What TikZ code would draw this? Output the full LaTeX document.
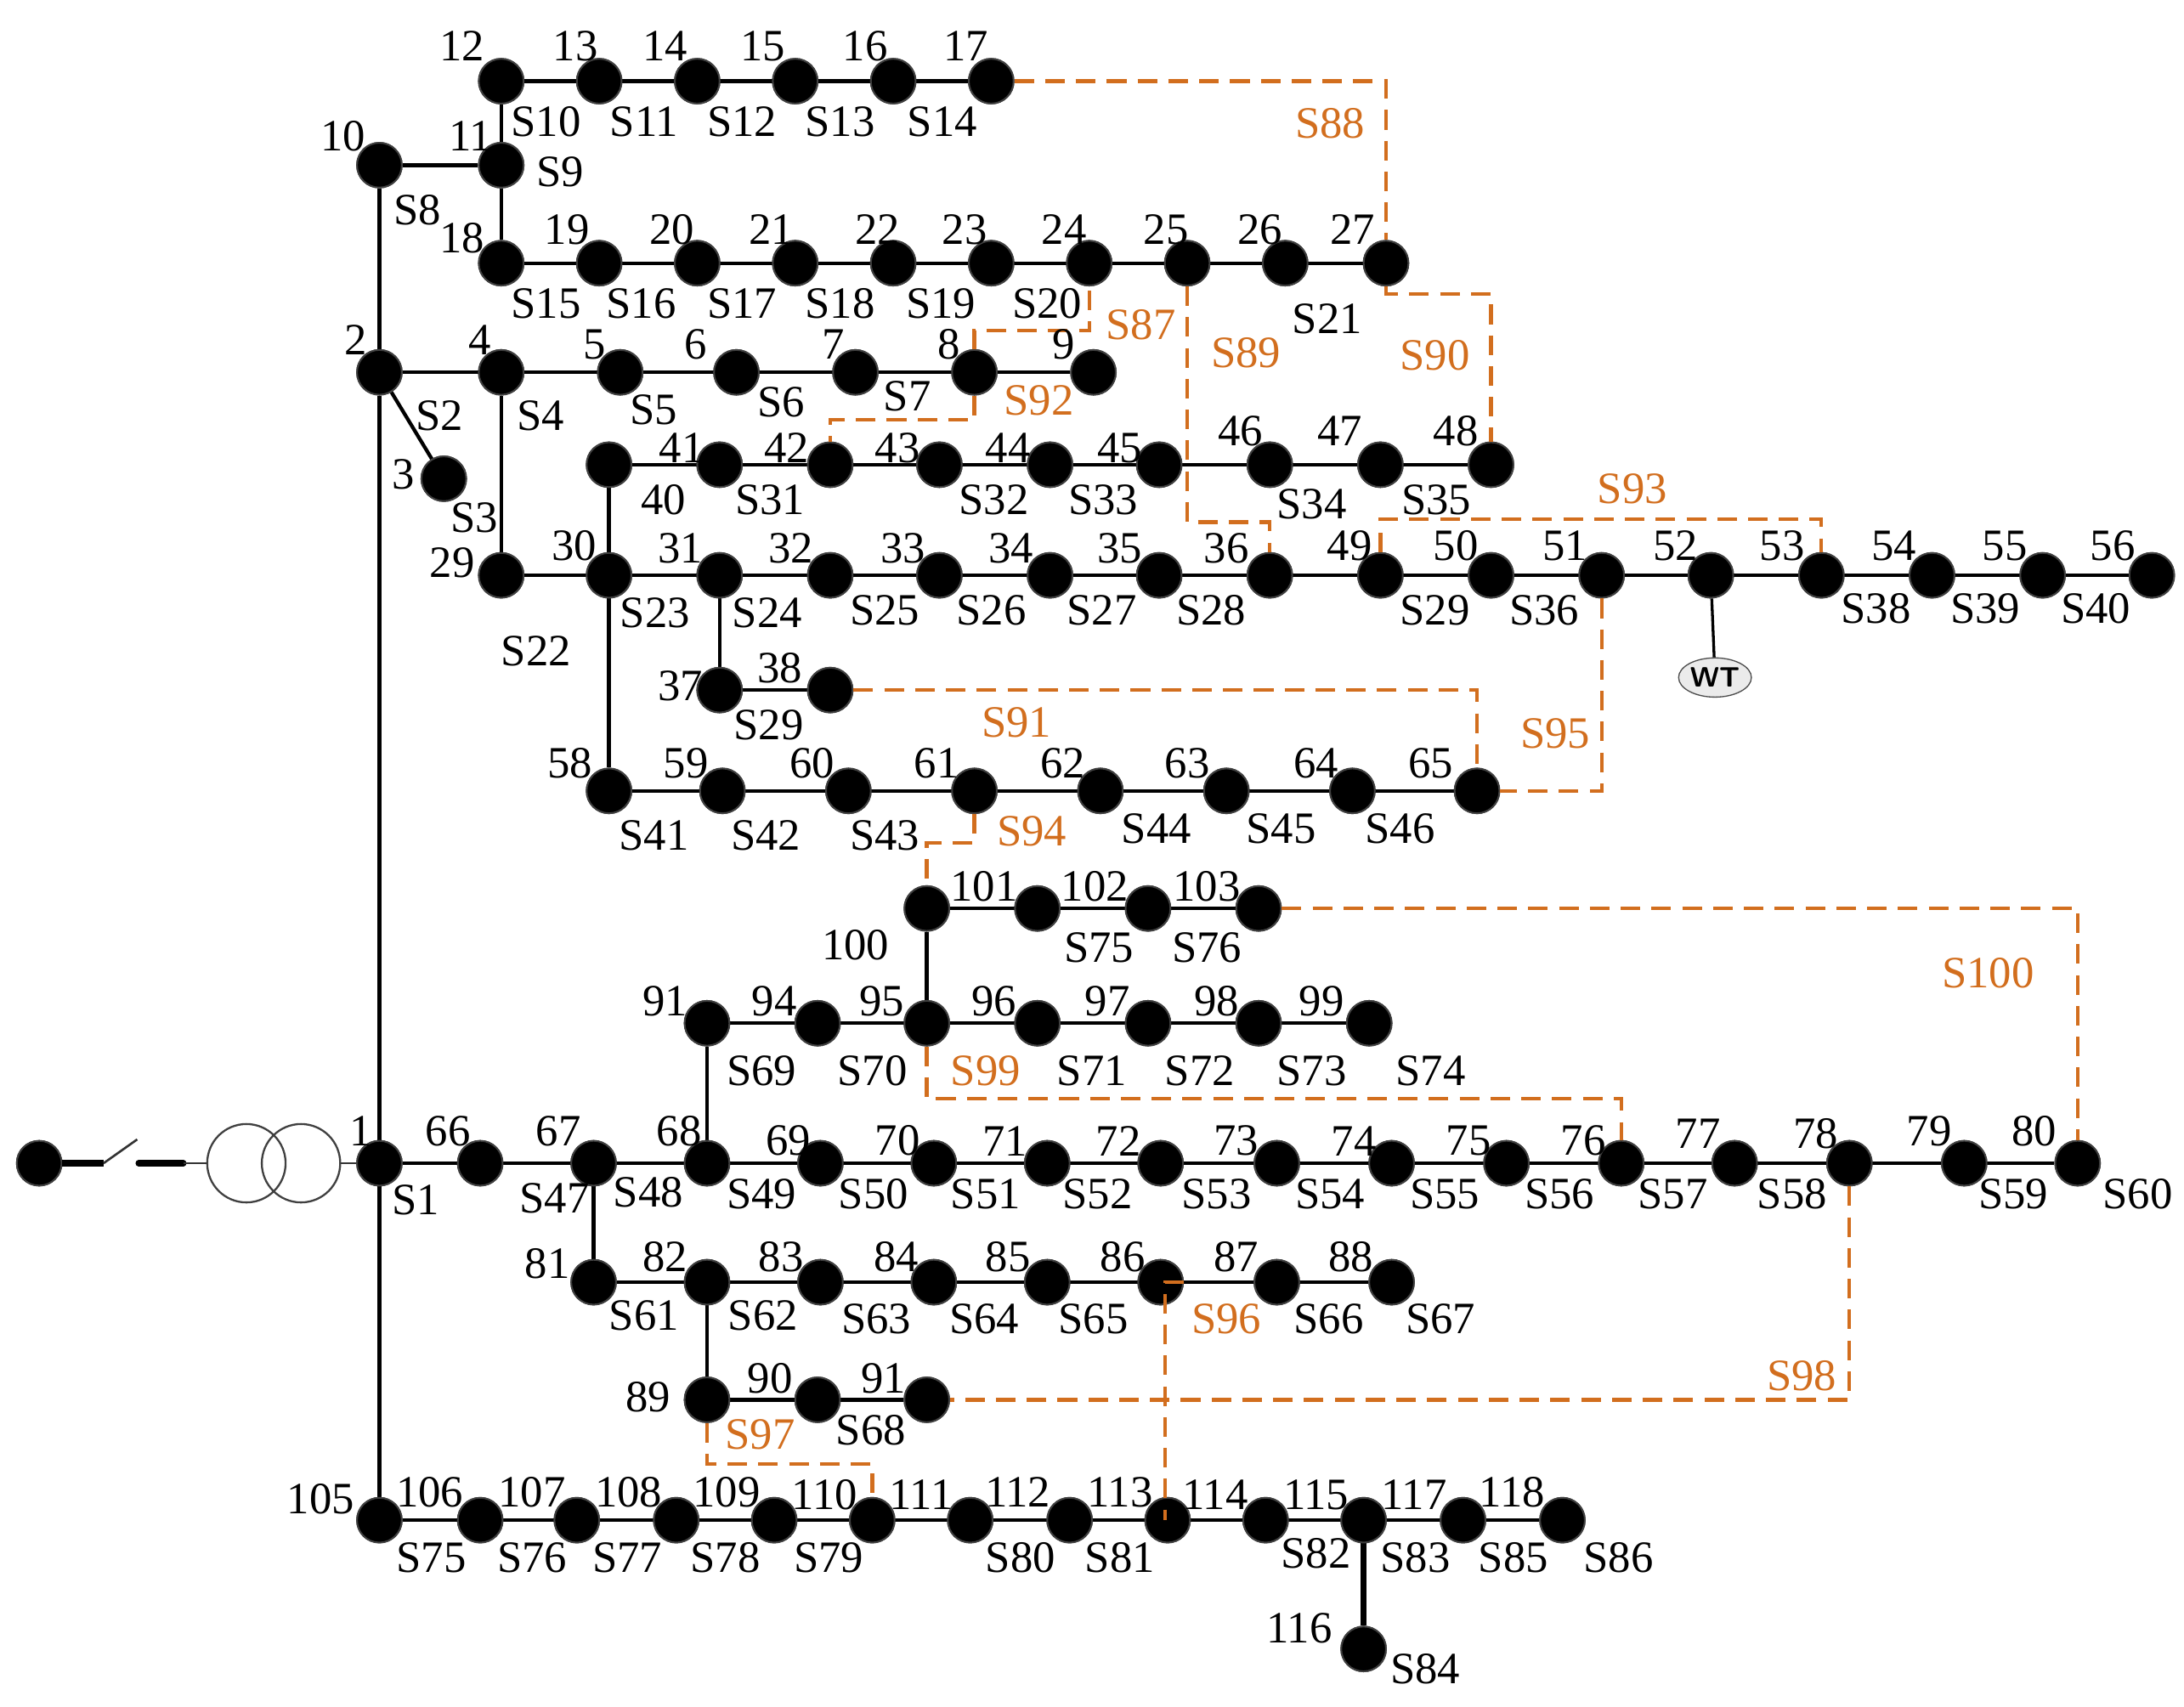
\documentclass[tikz,border=0pt]{standalone}
\usepackage{fontspec}
\setmainfont{Liberation Serif}
\usetikzlibrary{shapes.geometric}
\begin{document}
\begin{tikzpicture}[x=0.5pt,y=-0.5pt,
 bus/.style={circle,fill=black,draw=black!75,line width=0.6pt,minimum size=16pt,inner sep=0pt},
 ln/.style={line width=1.3pt},
 tie/.style={line width=1.3pt,dashed,dash pattern=on 7pt off 4pt,draw=orOr},
 lab/.style={font=\fontsize{16}{16}\selectfont,inner sep=0pt},
 olab/.style={lab,text=orOr}]
\definecolor{orOr}{RGB}{210,110,30}
\useasboundingbox (0,0) rectangle (1560,1219);
% buses
\foreach \n/\x/\y in {12/358/58,13/428/58,14/498/58,15/568/58,16/638/58,17/708/58,
 10/271/118,11/358/118,
 18/358/188,19/428/188,20/498/188,21/568/188,22/638/188,23/708/188,24/778/188,25/848/188,26/918/188,27/990/188,
 2/271/266,4/358/266,5/443/266,6/526/266,7/611/266,8/696/266,9/781/266,3/317/342,
 40/435/332,41/514/332,42/593/332,43/671/332,44/750/332,45/828/332,46/907/332,47/986/332,48/1065/332,
 29/358/411,30/435/411,31/514/411,32/593/411,33/671/411,34/750/411,35/828/411,36/907/411,49/986/411,50/1065/411,51/1144/411,52/1222/411,53/1301/411,54/1380/411,55/1459/411,56/1537/411,
 37/514/493,38/593/493,
 58/435/565,59/516/565,60/606/565,61/696/565,62/786/565,63/876/565,64/966/565,65/1055/565,
 100/662/649,101/741/649,102/820/649,103/899/649,
 91/505/731,94/584/731,95/662/731,96/741/731,97/820/731,98/899/731,99/978/731,
 1/271/831,66/343/831,67/424/831,68/505/831,69/586/831,70/667/831,71/748/831,72/829/831,73/912/831,74/994/831,75/1076/831,76/1158/831,77/1239/831,78/1321/831,79/1403/831,80/1484/831,
 81/424/916,82/505/916,83/586/916,84/667/916,85/748/916,86/829/916,87/912/916,88/994/916,
 89/505/1000,90/584/1000,91b/662/1000,
 105/271/1086,106/343/1086,107/412/1086,108/483/1086,109/553/1086,110/623/1086,111/693/1086,112/764/1086,113/834/1086,114/904/1086,115/974/1086,117/1045/1086,118/1116/1086,116/974/1178,src/28/831}
 \node[bus] (n\n) at (\x,\y) {};
% WT
\node[ellipse,draw=black!70,fill=black!8,minimum width=26pt,minimum height=14pt,inner sep=0pt,font=\sffamily\bfseries\fontsize{10}{10}\selectfont] (wt) at (1225,484) {WT};
% black lines
\foreach \a/\b in {12/17,18/27,2/9,40/48,29/56,58/65,100/103,91/99,1/80,81/88,89/91b,105/118}
 \draw[ln] (n\a) -- (n\b);
\foreach \a/\b in {12/11,10/11,10/2,2/1,11/18,4/29,30/40,30/58,31/37,37/38,100/95,91/68,67/81,82/89,1/105,2/3}
 \draw[ln] (n\a) -- (n\b);
\draw[line width=2.2pt] (n115) -- (n116);
\draw[line width=1pt] (n52) -- (wt);
% redraw buses on top
\foreach \n in {12,13,14,15,16,17,10,11,18,19,20,21,22,23,24,25,26,27,2,4,5,6,7,8,9,3,40,41,42,43,44,45,46,47,48,29,30,31,32,33,34,35,36,49,50,51,52,53,54,55,56,37,38,58,59,60,61,62,63,64,65,100,101,102,103,91,94,95,96,97,98,99,1,66,67,68,69,70,71,72,73,74,75,76,77,78,79,80,81,82,83,84,85,86,87,88,89,90,91b,105,106,107,108,109,110,111,112,113,114,115,117,118,116,src}
 \node[bus] at (n\n) {};
% source, switch, transformer
\coordinate (sw1) at (74,831); \coordinate (sw2) at (98,814);
\coordinate (sw3) at (99,831); \coordinate (sw4) at (131,831);
\draw[line width=2.2pt] (nsrc) -- (sw1);
\draw[line width=0.8pt,black!80] (sw1) -- (sw2);
\draw[line width=2.2pt,line cap=round] (sw3) -- (sw4);
\node[circle,draw=black!75,line width=0.7pt,minimum size=28pt,inner sep=0pt] (t1) at (176,831) {};
\node[circle,draw=black!75,line width=0.7pt,minimum size=28pt,inner sep=0pt] (t2) at (215,831) {};
\draw[line width=0.5pt,black!80] (sw4) -- (t1.west);
\draw[line width=0.5pt,black!80] (t2.east) -- (n1);
% tie lines
\draw[tie] (n17) -- (990,58) -- (n27);
\draw[tie] (n27) -- (990,210) -- (1065,210) -- (n48);
\draw[tie] (n25) -- (848,373) -- (907,373) -- (n36);
\draw[tie] (n8) -- (696,236) -- (778,236) -- (n24);
\draw[tie] (n8) -- (696,300) -- (593,300) -- (n42);
\draw[tie] (n49) -- (986,371) -- (1301,371) -- (n53);
\draw[tie] (n51) -- (1144,565) -- (n65);
\draw[tie] (n38) -- (1055,493) -- (n65);
\draw[tie] (n61) -- (696,602) -- (662,602) -- (n100);
\draw[tie] (n103) -- (1484,649) -- (n80);
\draw[tie] (n95) -- (662,785) -- (1158,785) -- (n76);
\draw[tie] (n78) -- (1321,1000) -- (n91b);
\draw[tie] (n86) -- (832,916) -- (832,1086);
\draw[tie] (n89) -- (505,1046) -- (623,1046) -- (n110);
% black labels
\foreach \t/\x/\y [count=\i] in {12/330/33,13/411/33,14/475/33,15/545/33,16/618/33,17/690/33,
 S10/390/87,S11/460/87,S12/530/87,S13/600/87,S14/673/87,
 10/245/97,11/336/97,S9/400/123,S8/298/150,18/330/170,
 19/405/164,20/480/164,21/551/164,22/627/164,23/689/164,24/760/164,25/833/164,26/900/164,27/966/164,
 S15/390/217,S16/458/217,S17/530/217,S18/600/217,S19/672/217,S20/748/217,S21/948/228,
 2/254/243,4/343/243,5/425/246,6/497/246,7/595/246,8/678/246,9/760/246,
 S2/314/297,S4/386/297,S5/467/293,S6/558/287,S7/648/283,3/288/339,S3/339/370,
 40/474/357,41/487/320,42/562/320,43/641/320,44/720/320,45/800/320,46/886/308,47/957/308,48/1040/308,
 S31/550/357,S32/710/357,S33/788/357,S34/937/360,S35/1026/357,
 29/323/402,30/410/390,31/486/392,32/565/392,33/645/392,34/722/392,35/800/392,36/876/392,49/964/390,50/1040/390,51/1118/390,52/1197/390,53/1273/390,54/1353/390,55/1432/390,56/1509/390,
 S22/383/465,S23/468/438,S24/548/438,S25/632/436,S26/708/436,S27/787/436,S28/865/436,S29/1025/436,S36/1103/436,S38/1340/435,S39/1418/435,S40/1497/435,
 37/486/490,38/557/477,S29/549/518,
 58/407/545,59/490/545,60/580/545,61/669/545,62/759/545,63/848/545,64/940/545,65/1022/545,
 S41/467/597,S42/547/597,S43/632/597,S44/826/592,S45/915/592,S46/1000/592,
 101/703/633,102/782/633,103/862/633,100/611/675,S75/785/677,S76/862/677,
 91/475/715,94/553/715,95/630/715,96/710/715,97/791/715,98/869/715,99/944/715,
 S69/544/765,S70/623/765,S71/780/765,S72/857/765,S73/937/765,S74/1022/765,
 1/258/808,66/320/808,67/399/808,68/485/808,69/563/815,70/641/815,71/718/815,72/799/815,73/883/815,74/967/815,75/1049/815,76/1131/815,77/1213/810,78/1297/810,79/1378/808,80/1453/808,
 S1/297/857,S47/396/856,S48/463/852,S49/544/853,S50/624/853,S51/704/853,S52/784/853,S53/869/853,S54/950/853,S55/1032/853,S56/1114/853,S57/1195/853,S58/1280/853,S59/1438/853,S60/1527/853,
 81/391/903,82/475/898,83/558/898,84/640/898,85/720/898,86/802/898,87/883/898,88/965/898,
 S61/460/940,S62/545/940,S63/626/942,S64/703/942,S65/781/942,S66/949/942,S67/1029/942,
 89/463/998,90/550/985,91/631/985,S68/622/1022,
 105/229/1071,106/307/1066,107/380/1066,108/449/1066,109/519/1066,110/589/1068,111/658/1068,112/727/1066,113/800/1066,114/868/1068,115/940/1068,117/1010/1068,118/1080/1066,
 S75/308/1113,S76/380/1113,S77/448/1113,S78/518/1113,S79/592/1113,S80/729/1113,S81/800/1113,S82/940/1110,S83/1011/1113,S85/1081/1113,S86/1156/1113,
 116/928/1163,S84/1018/1192}
 \node[lab] (lb\i) at (\x,\y) {\t};
\foreach \t/\x/\y [count=\i] in {S88/950/88,S87/815/232,S89/890/252,S90/1025/254,S92/742/286,S93/1166/349,S91/726/516,S95/1111/524,S94/737/594,S100/1420/695,S99/704/765,S96/876/942,S97/543/1025,S98/1287/983}
 \node[olab] (ol\i) at (\x,\y) {\t};
\end{tikzpicture}
\end{document}
